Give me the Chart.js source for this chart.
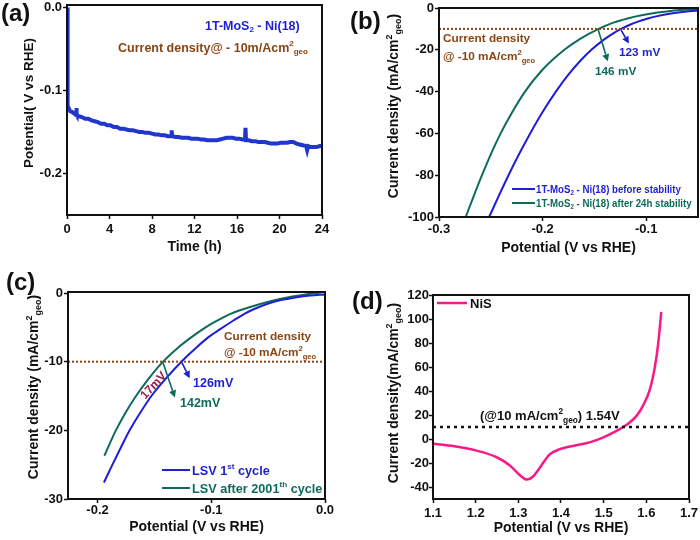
<!DOCTYPE html>
<html><head><meta charset="utf-8">
<script src="https://cdn.jsdelivr.net/npm/chart.js@4.4.1/dist/chart.umd.min.js"></script>
<style>
html,body{margin:0;padding:0;background:#fff;}
#wrap{position:relative;width:700px;height:540px;overflow:hidden;background:#fff;}
canvas{position:absolute;}
</style></head><body>
<div id="wrap">
<canvas id="ca" width="350" height="270" style="left:0;top:0"></canvas>
<canvas id="cb" width="350" height="270" style="left:350px;top:0"></canvas>
<canvas id="cc" width="350" height="270" style="left:0;top:270px"></canvas>
<canvas id="cd" width="350" height="270" style="left:350px;top:270px"></canvas>
</div>
<script>
// ---------- (a) stability: potential vs time ----------
const timeA = [0,0.04,0.08,0.15,0.3,0.5,0.7,0.85,0.88,0.92,
  1.1,1.4,1.7,2.0,2.3,2.6,2.9,3.2,3.5,3.8,
  4.1,4.4,4.7,5.0,5.3,5.6,5.9,6.2,6.5,6.8,
  7.1,7.4,7.7,8.0,8.3,8.6,8.9,9.2,9.5,9.8,
  9.85,9.9,10.2,10.5,10.8,11.1,11.4,11.7,12.0,12.3,
  12.6,12.9,13.2,13.5,13.8,14.1,14.4,14.7,15.0,15.3,
  15.6,15.9,16.2,16.5,16.75,16.8,16.85,17.1,17.4,17.7,
  18.0,18.3,18.6,18.9,19.2,19.5,19.8,20.1,20.4,20.7,
  21.0,21.3,21.6,21.9,22.2,22.5,22.6,22.7,22.9,23.2,
  23.5,23.8,24.0];
const potentialA = [0.0,-0.05,-0.118,-0.121,-0.125,-0.126,-0.128,-0.129,-0.121,-0.130,
  -0.131,-0.132,-0.134,-0.134,-0.136,-0.137,-0.138,-0.140,-0.140,-0.142,
  -0.142,-0.144,-0.144,-0.146,-0.146,-0.147,-0.148,-0.148,-0.149,-0.150,
  -0.150,-0.151,-0.151,-0.152,-0.153,-0.153,-0.154,-0.154,-0.155,-0.155,
  -0.148,-0.155,-0.156,-0.156,-0.157,-0.157,-0.157,-0.158,-0.158,-0.158,
  -0.159,-0.159,-0.160,-0.160,-0.160,-0.160,-0.159,-0.158,-0.157,-0.157,
  -0.157,-0.158,-0.158,-0.159,-0.159,-0.145,-0.160,-0.160,-0.161,-0.161,
  -0.162,-0.162,-0.162,-0.163,-0.164,-0.164,-0.164,-0.163,-0.163,-0.163,
  -0.162,-0.162,-0.164,-0.165,-0.166,-0.167,-0.172,-0.167,-0.168,-0.168,
  -0.168,-0.167,-0.167];
const xTicksA = [0,4,8,12,16,20,24];
const yTicksA = [-0.2,-0.1,0];

// ---------- (b) LSV before / after 24h stability ----------
const potB_before = [-0.2516,-0.2424,-0.2329,-0.2228,-0.2120,-0.2003,-0.1872,-0.1753,-0.1631,-0.1529,-0.1405,-0.1314,-0.1242,-0.1157,-0.1079,-0.0984,-0.0904,-0.0803,-0.0710,-0.0586,-0.0488];
const curB_before = [-100,-90,-80,-70,-60,-50,-40,-32,-25,-20,-15,-12,-10,-8,-6.5,-5,-4,-3,-2.3,-1.6,-1.2];
const potB_after = [-0.2742,-0.2665,-0.2585,-0.2500,-0.2405,-0.2295,-0.2170,-0.2010,-0.1790,-0.1645,-0.1460,-0.1316,-0.1180,-0.1045,-0.0907,-0.0783,-0.0673,-0.0568,-0.0468];
const curB_after = [-100,-90,-80,-70,-60,-50,-40,-30,-20,-15,-10,-7,-5,-3.5,-2.3,-1.5,-1.0,-0.7,-0.5];
const refB = [-10,-10];
const refB_x = [-0.3,-0.05];
const xTicksB = [-0.3,-0.2,-0.1];
const yTicksB = [-100,-80,-60,-40,-20,0];

// ---------- (c) LSV 1st vs 2001th cycle ----------
const potC_first = [-0.1944,-0.1869,-0.1795,-0.1718,-0.1627,-0.1527,-0.1402,-0.1263,-0.1135,-0.1030,-0.0925,-0.0805,-0.0705,-0.0632,-0.0510,-0.0380,-0.0250,-0.0130,0.0];
const curC_first = [-27.6,-25,-22.5,-20,-17.5,-15,-12.5,-10,-8,-6.5,-5.3,-4,-3,-2.4,-1.6,-1.0,-0.6,-0.35,-0.2];
const potC_after = [-0.1940,-0.1895,-0.1839,-0.1757,-0.1662,-0.1552,-0.1424,-0.1295,-0.1180,-0.1050,-0.0945,-0.0825,-0.0650,-0.0480,-0.0320,-0.0170,-0.0070,0.0];
const curC_after = [-23.7,-22,-20,-17.5,-15,-12.5,-10,-8,-6.5,-5,-4,-3,-2,-1.2,-0.6,-0.2,0,0.15];
const refC = [-10,-10];
const refC_x = [-0.226,0.0];
const xTicksC = [-0.2,-0.1,0];
const yTicksC = [-30,-20,-10,0];

// ---------- (d) NiS OER ----------
const potD = [1.100,1.150,1.200,1.248,1.280,1.303,1.320,1.334,1.354,1.373,1.397,1.436,1.467,1.498,1.530,1.553,1.577,1.592,1.608,1.620,1.628,1.635];
const curD = [-4,-6,-9.5,-15,-22,-30,-33.8,-31.5,-22,-13,-8.5,-5.2,-2.8,1.2,6.8,11.6,19.3,27.6,41,60,80,106];
const refD = [10,10];
const refD_x = [1.1,1.7];
const xTicksD = [1.1,1.2,1.3,1.4,1.5,1.6,1.7];
const yTicksD = [-40,-20,0,20,40,60,80,100,120];

// ---------- styling ----------
const FONT = '"Liberation Sans", Arial, Helvetica, sans-serif';
const BLUE = '#1e1ed2', GREEN = '#0e6b5b', BROWN = '#8b4513', PINK = '#fa1a86', DARKRED = '#9b1b45', INK = '#111';
const f = s => `bold ${s}px ${FONT}`;
const pts = (xs, ys) => xs.map((x, i) => ({x, y: ys[i]}));

function rich(ctx, x, y, segs, size, color, opt = {}) {
  const align = opt.align || 'left', rot = opt.rot || 0, sx = opt.sx || 1;
  ctx.save();
  ctx.translate(x, y); ctx.rotate(rot); ctx.scale(sx, 1);
  ctx.fillStyle = color; ctx.textBaseline = 'alphabetic'; ctx.textAlign = 'left';
  const parts = segs.map(s => { const k = s[1] || ''; const sz = k ? size * 0.64 : size; ctx.font = f(sz); return {t: s[0], k, sz, w: ctx.measureText(s[0]).width}; });
  const W = parts.reduce((a, p) => a + p.w, 0);
  let cx = align === 'center' ? -W / 2 : (align === 'right' ? -W : 0);
  const base = size * 0.36;
  for (const p of parts) {
    ctx.font = f(p.sz);
    let dy = base;
    if (p.k === 'sup') dy = base - size * 0.42;
    if (p.k === 'sub') dy = base + size * 0.22;
    ctx.fillText(p.t, cx, dy);
    cx += p.w;
  }
  ctx.restore();
}
function panelLabel(ctx, t, x, y) {
  ctx.save(); ctx.font = f(24); ctx.fillStyle = INK; ctx.textBaseline = 'middle'; ctx.textAlign = 'left';
  ctx.fillText(t, x, y); ctx.restore();
}
function seg(ctx, x1, y1, x2, y2, color, w) {
  ctx.save(); ctx.strokeStyle = color; ctx.lineWidth = w; ctx.beginPath(); ctx.moveTo(x1, y1); ctx.lineTo(x2, y2); ctx.stroke(); ctx.restore();
}
function arrow(ch, ctx, x1, y1, x2, y2, color) {
  const sx = ch.scales.x, sy = ch.scales.y;
  const a = [sx.getPixelForValue(x1), sy.getPixelForValue(y1)];
  const b = [sx.getPixelForValue(x2), sy.getPixelForValue(y2)];
  const ang = Math.atan2(b[1] - a[1], b[0] - a[0]);
  const L = 7, H = 3.6;
  const bx = b[0] - L * Math.cos(ang), by = b[1] - L * Math.sin(ang);
  seg(ctx, a[0], a[1], bx, by, color, 1.6);
  ctx.save(); ctx.fillStyle = color; ctx.beginPath();
  ctx.moveTo(b[0], b[1]);
  ctx.lineTo(bx + H * Math.sin(ang), by - H * Math.cos(ang));
  ctx.lineTo(bx - H * Math.sin(ang), by + H * Math.cos(ang));
  ctx.closePath(); ctx.fill(); ctx.restore();
}

function build(id, P) {
  const plug = {
    id: 'deco_' + id,
    afterDraw(chart) {
      const ctx = chart.ctx, a = chart.chartArea;
      ctx.save(); ctx.strokeStyle = INK; ctx.lineWidth = 2;
      ctx.strokeRect(a.left, a.top, a.right - a.left, a.bottom - a.top); ctx.restore();
      P.deco(chart, ctx);
    }
  };
  const axis = (A, isX) => ({
    type: 'linear', min: A.min, max: A.max,
    afterBuildTicks: s => { s.ticks = A.ticks.map(v => ({value: v})); },
    afterFit: s => {
      if (isX) s.height = 270 - P.area.bottom; else s.width = P.area.left;
      s.paddingLeft = s.paddingRight = s.paddingTop = s.paddingBottom = 0;
    },
    ticks: {font: {family: FONT, weight: 'bold', size: 13}, color: INK, padding: A.pad, maxRotation: 0, autoSkip: false, callback: A.fmt},
    grid: {drawOnChartArea: false, drawTicks: true, tickLength: 4, tickWidth: 1.5, tickColor: INK},
    border: {display: false},
    title: isX ? {display: true, text: A.title, font: {family: FONT, weight: 'bold', size: 14}, color: INK, padding: {top: 0, bottom: A.tpad}} : {display: false}
  });
  return new Chart(document.getElementById(id), {
    type: 'line',
    data: {datasets: P.datasets},
    options: {
      responsive: false, animation: false, devicePixelRatio: 1,
      layout: {padding: {left: 0, right: 350 - P.area.right, top: P.area.top, bottom: 0}},
      plugins: {legend: {display: false}, tooltip: {enabled: false}},
      elements: {point: {radius: 0}, line: {tension: 0}},
      scales: {x: axis(P.x, true), y: axis(P.y, false)}
    },
    plugins: [plug]
  });
}

const SMOOTH = {cubicInterpolationMode: 'monotone'};

// (a)
build('ca', {
  area: {left: 67, right: 322, top: 5, bottom: 215},
  x: {min: 0, max: 24, ticks: xTicksA, pad: 3, fmt: v => String(v), title: 'Time (h)', tpad: 14.6},
  y: {min: -0.25, max: 0.003, ticks: yTicksA, pad: 1, fmt: v => v.toFixed(1)},
  datasets: [{data: pts(timeA, potentialA), borderColor: '#2036cc', borderWidth: 4, fill: false}],
  deco(ch, ctx) {
    panelLabel(ctx, '(a)', 1, 14);
    rich(ctx, 28, 103, [['Potential( V vs RHE)']], 13.5, INK, {align: 'center', rot: -Math.PI / 2});
    rich(ctx, 205, 25, [['1T-MoS'], ['2', 'sub'], [' - Ni(18)']], 12.5, BLUE);
    rich(ctx, 118, 47, [['Current density@ - 10m/Acm'], ['2', 'sup'], ['geo', 'sub']], 12.5, BROWN);
  }
});

// (b)
build('cb', {
  area: {left: 89, right: 348, top: 8, bottom: 217},
  x: {min: -0.3, max: -0.05, ticks: xTicksB, pad: 1, fmt: v => v.toFixed(1), title: 'Potential (V vs RHE)', tpad: 13.6},
  y: {min: -100, max: 0, ticks: yTicksB, pad: 1, fmt: v => String(v)},
  datasets: [
    {data: pts(refB_x, refB), borderColor: BROWN, borderWidth: 2, borderDash: [2, 2]},
    Object.assign({data: pts(potB_before, curB_before), borderColor: BLUE, borderWidth: 2}, SMOOTH),
    Object.assign({data: pts(potB_after, curB_after), borderColor: GREEN, borderWidth: 2}, SMOOTH)
  ],
  deco(ch, ctx) {
    panelLabel(ctx, '(b)', 0, 22);
    rich(ctx, 43, 106, [['Current density (mA/cm'], ['2', 'sup'], ['geo', 'sub'], [')']], 14, INK, {align: 'center', rot: -Math.PI / 2});
    rich(ctx, 93, 38, [['Current density']], 11.8, BROWN);
    rich(ctx, 93, 56, [['@ -10 mA/cm'], ['2', 'sup'], ['geo', 'sub']], 11.8, BROWN);
    arrow(ch, ctx, -0.1242, -10.6, -0.1167, -17, BLUE);
    arrow(ch, ctx, -0.1462, -10.6, -0.1371, -25.5, GREEN);
    rich(ctx, 269, 52, [['123 mV']], 11.8, BLUE);
    rich(ctx, 245, 71, [['146 mV']], 11.8, GREEN);
    seg(ctx, 162, 189, 185, 189, BLUE, 2);
    seg(ctx, 162, 203, 185, 203, GREEN, 2);
    rich(ctx, 186, 189, [['1T-MoS'], ['2', 'sub'], [' - Ni(18) before stability']], 11, BLUE, {sx: 0.88});
    rich(ctx, 186, 203, [['1T-MoS'], ['2', 'sub'], [' - Ni(18) after 24h stability']], 11, GREEN, {sx: 0.88});
  }
});

// (c)
build('cc', {
  area: {left: 68, right: 325, top: 22, bottom: 229},
  x: {min: -0.226, max: 0, ticks: xTicksC, pad: 0, fmt: v => v.toFixed(1), title: 'Potential (V vs RHE)', tpad: 4.6},
  y: {min: -30, max: 0.15, ticks: yTicksC, pad: 1, fmt: v => String(v)},
  datasets: [
    {data: pts(refC_x, refC), borderColor: BROWN, borderWidth: 2, borderDash: [2, 2]},
    Object.assign({data: pts(potC_first, curC_first), borderColor: BLUE, borderWidth: 2}, SMOOTH),
    Object.assign({data: pts(potC_after, curC_after), borderColor: GREEN, borderWidth: 2}, SMOOTH)
  ],
  deco(ch, ctx) {
    panelLabel(ctx, '(c)', 6, 13);
    rich(ctx, 33, 117, [['Current density (mA/cm'], ['2', 'sup'], ['geo', 'sub'], [')']], 14, INK, {align: 'center', rot: -Math.PI / 2});
    rich(ctx, 224, 66, [['Current density']], 11.8, BROWN);
    rich(ctx, 224, 82, [['@ -10 mA/cm'], ['2', 'sup'], ['geo', 'sub']], 11.8, BROWN);
    arrow(ch, ctx, -0.1263, -10, -0.119, -12.4, BLUE);
    arrow(ch, ctx, -0.1424, -10.2, -0.132, -15.2, GREEN);
    rich(ctx, 193, 112, [['126mV']], 12.5, BLUE);
    rich(ctx, 180, 132, [['142mV']], 12.5, GREEN);
    rich(ctx, 153, 115, [['17mV']], 12, DARKRED, {align: 'center', rot: -47 * Math.PI / 180});
    seg(ctx, 162, 200, 190, 200, BLUE, 2);
    seg(ctx, 162, 218, 190, 218, GREEN, 2);
    rich(ctx, 192, 200, [['LSV 1'], ['st', 'sup'], [' cycle']], 12.7, BLUE);
    rich(ctx, 192, 218, [['LSV after 2001'], ['th', 'sup'], [' cycle']], 12.7, GREEN);
  }
});

// (d)
build('cd', {
  area: {left: 83, right: 339, top: 25, bottom: 229},
  x: {min: 1.1, max: 1.7, ticks: xTicksD, pad: 3, fmt: v => v.toFixed(1), title: 'Potential (V vs RHE)', tpad: 3.6},
  y: {min: -50, max: 120, ticks: yTicksD, pad: 0, fmt: v => String(v)},
  datasets: [
    {data: pts(refD_x, refD), borderColor: INK, borderWidth: 2.5, borderDash: [3, 4]},
    Object.assign({data: pts(potD, curD), borderColor: PINK, borderWidth: 2.5}, SMOOTH)
  ],
  deco(ch, ctx) {
    panelLabel(ctx, '(d)', 2, 32);
    rich(ctx, 43, 123, [['Current density(mA/cm'], ['2', 'sup'], ['geo', 'sub'], [')']], 14, INK, {align: 'center', rot: -Math.PI / 2});
    seg(ctx, 87, 33, 117, 33, PINK, 2.5);
    rich(ctx, 120, 33, [['NiS']], 13, INK);
    rich(ctx, 130, 145, [['(@10 mA/cm'], ['2', 'sup'], ['geo', 'sub'], [') 1.54V']], 13, INK);
  }
});
</script>
</body></html>
